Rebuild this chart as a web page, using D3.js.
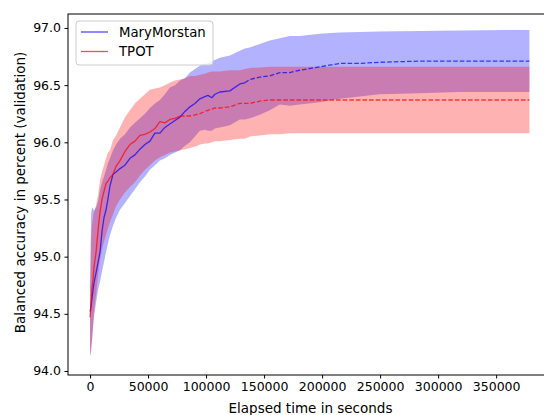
<!DOCTYPE html>
<html>
<head>
<meta charset="utf-8">
<script src="https://cdn.jsdelivr.net/npm/d3@7/dist/d3.min.js"></script>
<style>
  html, body { margin: 0; padding: 0; background: #fff; }
  svg { display: block; font-family: "DejaVu Sans", sans-serif; }
</style>
</head>
<body>
<svg id="chart" width="544" height="415"></svg>
<script>
// ---- data ----
const times = [0, 900, 1700, 2600, 3400, 5200, 6900, 8600, 10300, 12000, 13800, 15500, 17200, 19800, 22400, 25800,
  30100, 34400, 38700, 43000, 47300, 51600, 55900, 60200, 64500, 68800, 73200, 77500, 81800, 86100, 90400, 94700,
  99000, 101600, 105000, 107600, 111900, 120500, 129100, 133400, 137700, 146300, 154900, 163500, 172100, 180700,
  197900, 215200, 232400, 249600, 284000, 318400, 378700];

const maryMean = [94.52, 94.57, 94.64, 94.71, 94.77, 94.86, 94.95, 95.04, 95.22, 95.34, 95.41, 95.51, 95.62, 95.72, 95.74, 95.77,
  95.80, 95.86, 95.89, 95.94, 95.98, 96.01, 96.08, 96.08, 96.13, 96.16, 96.19, 96.22, 96.27, 96.31, 96.34, 96.38,
  96.40, 96.41, 96.39, 96.42, 96.44, 96.45, 96.51, 96.52, 96.55, 96.57, 96.58, 96.61, 96.61, 96.63,
  96.66, 96.69, 96.69, 96.70, 96.71, 96.71, 96.71];
const maryHigh = [94.71, 95.37, 95.43, 95.42, 95.40, 95.43, 95.48, 95.58, 95.65, 95.70, 95.76, 95.82, 95.86, 95.93, 95.98, 96.03,
  96.07, 96.13, 96.17, 96.21, 96.25, 96.30, 96.34, 96.37, 96.42, 96.48, 96.50, 96.54, 96.56, 96.61, 96.64, 96.67,
  96.69, 96.69, 96.71, 96.72, 96.74, 96.76, 96.80, 96.82, 96.83, 96.86, 96.89, 96.91, 96.93, 96.93,
  96.95, 96.96, 96.965, 96.97, 96.974, 96.978, 96.983];
const maryLow = [94.14, 94.19, 94.27, 94.38, 94.47, 94.60, 94.71, 94.78, 94.87, 94.95, 95.04, 95.12, 95.19, 95.27, 95.34, 95.41,
  95.47, 95.53, 95.59, 95.65, 95.70, 95.76, 95.80, 95.84, 95.86, 95.89, 95.91, 95.93, 95.97, 96.00, 96.05, 96.10,
  96.11, 96.10, 96.10, 96.12, 96.13, 96.15, 96.20, 96.20, 96.21, 96.24, 96.28, 96.33, 96.32, 96.33,
  96.35, 96.38, 96.40, 96.42, 96.43, 96.44, 96.44];

const tpotMean = [94.47, 94.58, 94.73, 94.80, 94.91, 95.04, 95.23, 95.39, 95.50, 95.57, 95.64, 95.66, 95.69, 95.72, 95.79, 95.84,
  95.92, 95.98, 96.01, 96.06, 96.07, 96.09, 96.12, 96.18, 96.17, 96.20, 96.21, 96.23, 96.23, 96.23, 96.24, 96.25,
  96.27, 96.28, 96.29, 96.30, 96.30, 96.31, 96.34, 96.34, 96.34, 96.36, 96.37, 96.37, 96.37, 96.37,
  96.37, 96.37, 96.37, 96.37, 96.37, 96.37, 96.37];
const tpotHigh = [94.71, 95.15, 95.28, 95.34, 95.39, 95.45, 95.54, 95.67, 95.74, 95.80, 95.86, 95.91, 95.93, 96.02, 96.06, 96.13,
  96.22, 96.28, 96.34, 96.38, 96.42, 96.46, 96.47, 96.48, 96.50, 96.52, 96.54, 96.55, 96.56, 96.58, 96.58, 96.59,
  96.60, 96.61, 96.62, 96.62, 96.62, 96.63, 96.63, 96.64, 96.65, 96.655, 96.66, 96.66, 96.66, 96.66,
  96.66, 96.66, 96.66, 96.66, 96.66, 96.66, 96.66];
const tpotLow = [94.12, 94.17, 94.27, 94.40, 94.52, 94.67, 94.84, 94.97, 95.06, 95.13, 95.19, 95.25, 95.30, 95.37, 95.44, 95.50,
  95.56, 95.61, 95.65, 95.71, 95.76, 95.80, 95.84, 95.87, 95.89, 95.91, 95.92, 95.93, 95.94, 95.95, 95.96, 95.98,
  95.99, 95.99, 96.00, 96.01, 96.01, 96.02, 96.03, 96.03, 96.05, 96.06, 96.07, 96.07, 96.08, 96.08,
  96.08, 96.08, 96.08, 96.08, 96.08, 96.08, 96.08];

// time after which the mean curve is drawn dashed
const marySolidUntil = 133400;
const tpotSolidUntil = 77500;

const seriesNames = ["MaryMorstan", "TPOT"];
const seriesColors = ["blue", "red"];
const xTicks = [0, 50000, 100000, 150000, 200000, 250000, 300000, 350000];
const yTicks = [94.0, 94.5, 95.0, 95.5, 96.0, 96.5, 97.0];
const xLabel = "Elapsed time in seconds";
const yLabel = "Balanced accuracy in percent (validation)";

// ---- layout ----
const W = 544, H = 415;
const plot = { left: 68, top: 14, right: 553, bottom: 375 };
const FS_TICK = 12.5, FS_LABEL = 13.5, FS_LEGEND = 13.3;

const svg = d3.select("#chart");

const x = d3.scaleLinear().domain([-19000, 399000]).range([plot.left, plot.right]);
const y = d3.scaleLinear().domain([93.965, 97.122]).range([plot.bottom, plot.top]);

const series = [
  { name: seriesNames[0], color: seriesColors[0], mean: maryMean, low: maryLow, high: maryHigh, solidUntil: marySolidUntil },
  { name: seriesNames[1], color: seriesColors[1], mean: tpotMean, low: tpotLow, high: tpotHigh, solidUntil: tpotSolidUntil }
];

const area = d3.area()
  .x(d => x(d.t)).y0(d => y(d.lo)).y1(d => y(d.hi));
const line = d3.line().x(d => x(d.t)).y(d => y(d.v));

// bands
series.forEach(s => {
  const pts = times.map((t, i) => ({ t, lo: s.low[i], hi: s.high[i] }));
  svg.append("path").datum(pts)
    .attr("d", area)
    .attr("fill", s.color)
    .attr("fill-opacity", 0.3)
    .attr("stroke", "none");
});

// mean lines
series.forEach(s => {
  const pts = times.map((t, i) => ({ t, v: s.mean[i] }));
  const solid = pts.filter(p => p.t <= s.solidUntil);
  const dashed = pts.filter(p => p.t >= s.solidUntil);
  svg.append("path").datum(solid)
    .attr("d", line).attr("fill", "none")
    .attr("stroke", s.color).attr("stroke-opacity", 0.7)
    .attr("stroke-width", 1.3).attr("stroke-linejoin", "round");
  svg.append("path").datum(dashed)
    .attr("d", line).attr("fill", "none")
    .attr("stroke", s.color).attr("stroke-opacity", 0.7)
    .attr("stroke-width", 1.3).attr("stroke-dasharray", "4.6,2");
});

// axes
const xAxis = d3.axisBottom(x).tickValues(xTicks).tickFormat(d3.format("d"))
  .tickSize(3.5).tickPadding(3.5);
const yAxis = d3.axisLeft(y).tickValues(yTicks).tickFormat(d3.format(".1f"))
  .tickSize(3.5).tickPadding(3.5);

const gx = svg.append("g").attr("transform", `translate(0,${plot.bottom})`).call(xAxis);
const gy = svg.append("g").attr("transform", `translate(${plot.left},0)`).call(yAxis);
[gx, gy].forEach(g => {
  g.select(".domain").remove();
  g.selectAll(".tick line").attr("stroke", "#000").attr("stroke-width", 1);
  g.selectAll(".tick text").attr("fill", "#000").style("font-size", FS_TICK + "px")
    .style("font-family", "DejaVu Sans");
});

// frame
svg.append("rect")
  .attr("x", plot.left).attr("y", plot.top)
  .attr("width", plot.right - plot.left).attr("height", plot.bottom - plot.top)
  .attr("fill", "none").attr("stroke", "#000").attr("stroke-width", 1);

// axis labels
svg.append("text")
  .attr("x", (plot.left + plot.right) / 2).attr("y", 412.5)
  .attr("text-anchor", "middle").style("font-size", FS_LABEL + "px")
  .text(xLabel);
svg.append("text")
  .attr("transform", `translate(24.5,${(plot.top + plot.bottom) / 2 - 2}) rotate(-90)`)
  .attr("text-anchor", "middle").style("font-size", FS_LABEL + "px")
  .text(yLabel);

// legend
const lg = svg.append("g");
lg.append("rect")
  .attr("x", 76).attr("y", 21).attr("width", 137).attr("height", 44)
  .attr("rx", 3).attr("fill", "#fff").attr("fill-opacity", 0.8)
  .attr("stroke", "#ccc").attr("stroke-width", 1);
series.forEach((s, i) => {
  const yy = 32 + i * 19.5;
  lg.append("line").attr("x1", 81).attr("x2", 108).attr("y1", yy).attr("y2", yy)
    .attr("stroke", s.color).attr("stroke-opacity", 0.7).attr("stroke-width", 1.3);
  lg.append("text").attr("x", 119).attr("y", yy).attr("dy", "0.36em")
    .style("font-size", FS_LEGEND + "px").text(s.name);
});
</script>
</body>
</html>
